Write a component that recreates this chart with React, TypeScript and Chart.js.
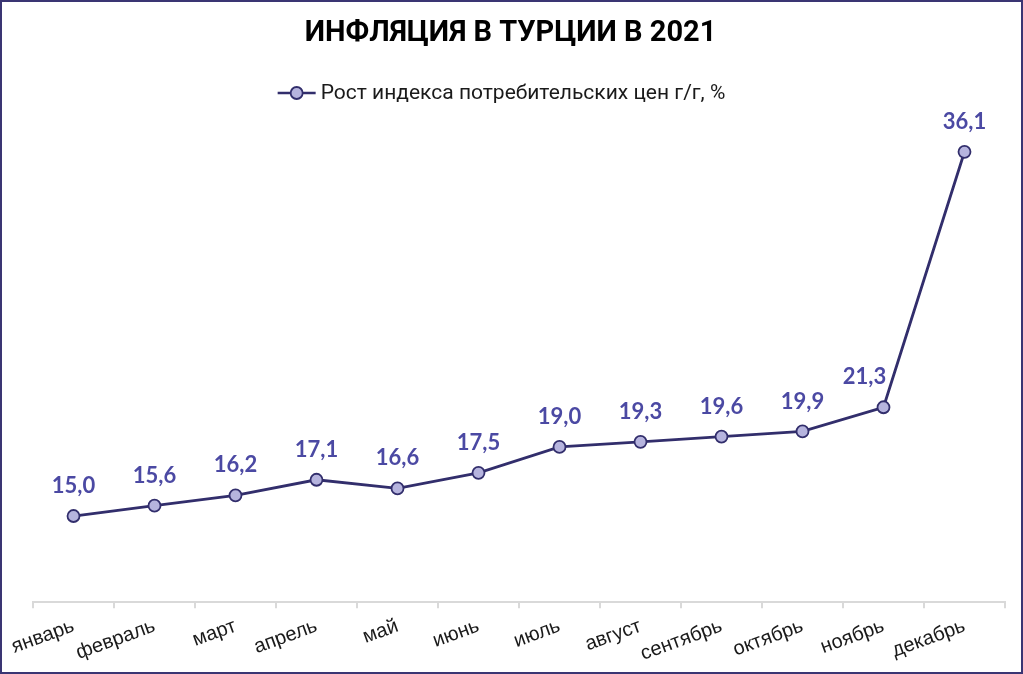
import React, { useEffect, useRef } from "react";
import { Chart, registerables } from "chart.js";

Chart.register(...registerables);

const TITLE = "ИНФЛЯЦИЯ В ТУРЦИИ В 2021";
const SERIES_NAME = "Рост индекса потребительских цен г/г, %";
const MONTHS = [
  "январь", "февраль", "март", "апрель", "май", "июнь",
  "июль", "август", "сентябрь", "октябрь", "ноябрь", "декабрь",
];
const VALUES = [15.0, 15.6, 16.2, 17.1, 16.6, 17.5, 19.0, 19.3, 19.6, 19.9, 21.3, 36.1];

const LINE_COLOR = "#322e6c";
const POINT_FILL = "#b6b4de";
const LABEL_COLOR = "#4b49a3";

const overlayPlugin = {
  id: "overlay",
  afterDatasetsDraw(chart: any) {
    const ctx = chart.ctx;
    const meta = chart.getDatasetMeta(0);
    ctx.save();
    ctx.font = "bold 22px Lato, 'Open Sans', sans-serif";
    ctx.fillStyle = LABEL_COLOR;
    ctx.textAlign = "center";
    ctx.textBaseline = "middle";
    const n = meta.data.length;
    meta.data.forEach((pt: any, i: number) => {
      const txt = VALUES[i].toFixed(1).replace(".", ",");
      // the label before the steep final rise sits to the left of its point
      const dx = i === n - 2 ? -19 : 0;
      ctx.fillText(txt, pt.x + dx, pt.y - 30);
    });
    ctx.restore();
  },
  afterDraw(chart: any) {
    const ctx = chart.ctx;
    const w = chart.width;
    ctx.save();
    // title
    ctx.font = "bold 29px Roboto, sans-serif";
    ctx.fillStyle = "#000000";
    ctx.textAlign = "center";
    ctx.textBaseline = "middle";
    ctx.fillText(TITLE, w / 2 - 1, 32);
    // legend
    ctx.font = "21px Roboto, sans-serif";
    const tw = ctx.measureText(SERIES_NAME).width;
    const lineW = 38;
    const gap = 5;
    const total = lineW + gap + tw;
    const x0 = w / 2 - total / 2 - 10;
    const y = 91;
    ctx.strokeStyle = LINE_COLOR;
    ctx.lineWidth = 2.5;
    ctx.beginPath();
    ctx.moveTo(x0, y);
    ctx.lineTo(x0 + lineW, y);
    ctx.stroke();
    ctx.beginPath();
    ctx.arc(x0 + lineW / 2, y, 6, 0, Math.PI * 2);
    ctx.fillStyle = POINT_FILL;
    ctx.fill();
    ctx.lineWidth = 1.8;
    ctx.stroke();
    ctx.fillStyle = "#1a1a1a";
    ctx.textAlign = "left";
    ctx.fillText(SERIES_NAME, x0 + lineW + gap, y + 1);
    ctx.restore();
  },
};

export default function App() {
  const ref = useRef<HTMLCanvasElement>(null);
  useEffect(() => {
    document.body.style.margin = "0";
    const chart = new Chart(ref.current!, {
      type: "line",
      data: {
        labels: MONTHS,
        datasets: [
          {
            label: SERIES_NAME,
            data: VALUES,
            borderColor: LINE_COLOR,
            borderWidth: 2.8,
            pointBackgroundColor: POINT_FILL,
            pointBorderColor: LINE_COLOR,
            pointBorderWidth: 1.8,
            pointRadius: 6,
            tension: 0,
          },
        ],
      },
      options: {
        animation: false,
        responsive: false,
        layout: { padding: { top: 117, left: 31, right: 16, bottom: 0 } },
        plugins: {
          legend: { display: false },
          title: { display: false },
          tooltip: { enabled: false },
        },
        scales: {
          x: {
            offset: true,
            grid: {
              offset: true,
              drawOnChartArea: false,
              drawTicks: true,
              tickLength: 6,
              color: "#d9d9d9",
              lineWidth: 2,
            },
            border: { color: "#d9d9d9", width: 2 },
            ticks: {
              autoSkip: false,
              minRotation: 20,
              maxRotation: 20,
              color: "#1a1a1a",
              font: { family: "'Liberation Sans', Arial, sans-serif", size: 20 },
              padding: 6,
            },
          },
          y: {
            display: false,
            min: 10,
            max: 38,
          },
        },
      },
      plugins: [overlayPlugin],
    });
    return () => chart.destroy();
  }, []);
  return (
    <div
      style={{
        width: 1023,
        height: 674,
        boxSizing: "border-box",
        border: "2px solid #3a3573",
        background: "#ffffff",
      }}
    >
      <canvas ref={ref} width={1019} height={670} style={{ display: "block" }} />
    </div>
  );
}
